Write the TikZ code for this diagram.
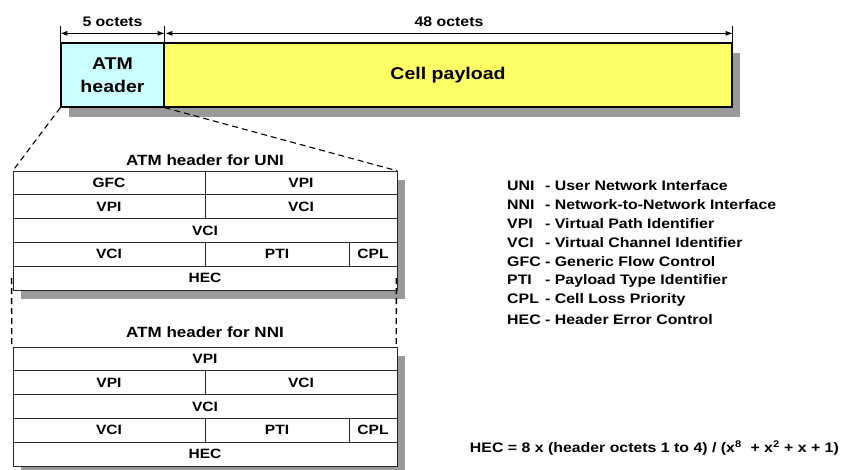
\documentclass[tikz,border=0pt]{standalone}
\usepackage{fontspec}
\setmainfont{Liberation Sans}[FakeStretch=1.15]
\usetikzlibrary{shadows,arrows.meta}
\definecolor{hdrcyan}{HTML}{CCFFFF}
\definecolor{payyellow}{HTML}{FFFF66}
\definecolor{shadegray}{HTML}{999999}

\begin{document}
\begin{tikzpicture}[x=1pt,y=-1pt,
  every node/.style={font=\bfseries},
  box/.style={draw,line width=1.3pt,inner sep=0pt,minimum height=64pt,
    drop shadow={shadow xshift=8pt,shadow yshift=-10pt,fill=shadegray,opacity=1}},
  frame/.style={fill=white,inner sep=0pt,minimum width=384pt,minimum height=119pt,
    drop shadow={shadow xshift=8pt,shadow yshift=-9pt,fill=shadegray,opacity=1}},
  cell/.style={draw=black!85,line width=0.8pt,fill=white,inner sep=0pt,
    minimum height=23.8pt,font=\bfseries\fontsize{13.5}{13.5}\selectfont},
  full/.style={cell,minimum width=384pt},
  half/.style={cell,minimum width=192pt},
  title/.style={font=\bfseries\fontsize{14.8}{14.8}\selectfont},
  keyline/.style={anchor=west,inner sep=0pt,font=\bfseries\fontsize{13.8}{13.8}\selectfont},
  zoomline/.style={line width=1.1pt,dash pattern=on 6pt off 4pt},
  dim/.style={line width=0.8pt,{Latex[length=7pt,width=5pt]}-{Latex[length=7pt,width=5pt]}}]
  \useasboundingbox (0,0) rectangle (843,469);
  % Celda ATM
  \node[box,fill=hdrcyan,minimum width=103pt,align=center,
    font=\bfseries\fontsize{17}{23}\selectfont] (hdr) at (112.5,75) {ATM\\header};
  \node[box,fill=payyellow,minimum width=568pt,
    font=\bfseries\fontsize{17}{17}\selectfont] (pay) at (448,75) {Cell payload};
  % Cotas
  \draw[line width=0.6pt] (hdr.north west) -- ++(0,-16);
  \draw[line width=0.6pt] (hdr.north east) -- ++(0,-16);
  \draw[line width=0.6pt] (pay.north east) -- ++(0,-16);
  \draw[dim] ([yshift=9pt]hdr.north west) -- ([yshift=9pt]hdr.north east)
    node[midway,above=3pt,font=\bfseries\fontsize{13.8}{13.8}\selectfont] {5 octets};
  \draw[dim] ([xshift=2pt,yshift=9pt]pay.north west) -- ([yshift=9pt]pay.north east)
    node[midway,above=3pt,font=\bfseries\fontsize{13.8}{13.8}\selectfont] {48 octets};
  % Cabecera UNI
  \node[title] (titleU) at (205,160) {ATM header for UNI};
  \node[frame] (uni) at (205,230.5) {};
  \node[half] (uGFC) at (109,182.9) {GFC};
  \node[half] (uVPIa) at (301,182.9) {VPI};
  \node[half] (uVPIb) at (109,206.7) {VPI};
  \node[half] (uVCIa) at (301,206.7) {VCI};
  \node[full] (uVCIb) at (205,230.5) {VCI};
  \node[half] (uVCIc) at (109,254.3) {VCI};
  \node[cell,minimum width=144pt] (uPTI) at (277,254.3) {PTI};
  \node[cell,minimum width=48pt] (uCPL) at (373,254.3) {CPL};
  \node[full] (uHEC) at (205,278.1) {HEC};
  % Cabecera NNI
  \node[title] (titleN) at (205,332) {ATM header for NNI};
  \node[frame] (nni) at (205,406.5) {};
  \node[full] (nVPIa) at (205,358.9) {VPI};
  \node[half] (nVPIb) at (109,382.7) {VPI};
  \node[half] (nVCIa) at (301,382.7) {VCI};
  \node[full] (nVCIb) at (205,406.5) {VCI};
  \node[half] (nVCIc) at (109,430.3) {VCI};
  \node[cell,minimum width=144pt] (nPTI) at (277,430.3) {PTI};
  \node[cell,minimum width=48pt] (nCPL) at (373,430.3) {CPL};
  \node[full] (nHEC) at (205,454.1) {HEC};
  % Lineas de ampliacion
  \draw[zoomline] (hdr.south west) -- (uni.north west);
  \draw[zoomline] (hdr.south east) -- (uni.north east);
  \draw[zoomline,line width=1.4pt] ([xshift=-1pt]uHEC.west) -- ([xshift=-1pt]nni.north west);
  \draw[zoomline,line width=1.4pt] ([xshift=-1pt]uHEC.east) -- ([xshift=-1pt]nni.north east);
  % Leyenda
  \node[keyline] (kUNI) at (507,186) {\makebox[38pt][l]{UNI}- User Network Interface};
  \node[keyline] (kNNI) at (507,205) {\makebox[38pt][l]{NNI}- Network-to-Network Interface};
  \node[keyline] (kVPI) at (507,224) {\makebox[38pt][l]{VPI}- Virtual Path Identifier};
  \node[keyline] (kVCI) at (507,243) {\makebox[38pt][l]{VCI}- Virtual Channel Identifier};
  \node[keyline] (kGFC) at (507,262) {\makebox[38pt][l]{GFC}- Generic Flow Control};
  \node[keyline] (kPTI) at (507,281) {\makebox[38pt][l]{PTI}- Payload Type Identifier};
  \node[keyline] (kCPL) at (507,300) {\makebox[38pt][l]{CPL}- Cell Loss Priority};
  \node[keyline] (kHEC) at (507,320) {\makebox[38pt][l]{HEC}- Header Error Control};
  % Formula HEC
  \node[keyline,anchor=east] (hecf) at (839,448)
    {HEC = 8 x (header octets 1 to 4) / (x\textsuperscript{8}\ \ + x\textsuperscript{2} + x + 1)};
\end{tikzpicture}
\end{document}
